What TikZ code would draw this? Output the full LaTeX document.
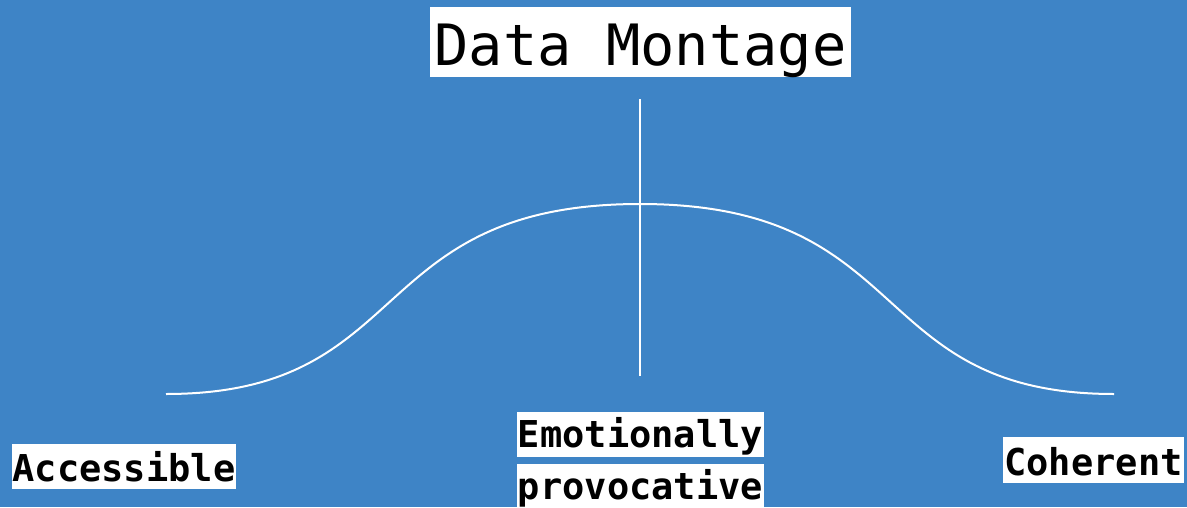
\documentclass[tikz,border=0pt]{standalone}
\usepackage{fontspec}
\setmonofont{DejaVu Sans Mono}
\definecolor{bgblue}{RGB}{62,132,198}
\newfontfamily\monofont{DejaVu Sans Mono}
\tikzset{
  titlebox/.style={fill=white, text=black, inner xsep=5pt, inner ysep=0pt, anchor=base,
    font=\monofont\fontsize{57}{60}\selectfont, text height=58pt, text depth=12pt},
  lblbox/.style={fill=white, text=black, inner xsep=1pt, inner ysep=0pt, anchor=base,
    font=\monofont\bfseries\fontsize{37}{40}\selectfont},
  curveline/.style={draw=white, line width=2pt},
  axisline/.style={draw=white, line width=1.5pt}
}
\begin{document}
\begin{tikzpicture}[x=1pt,y=-1pt]
\useasboundingbox (0,0) rectangle (1187,507);
\fill[bgblue] (0,0) rectangle (1187,507);
\node[titlebox] (title) at (640.5,65) {Data Montage};
\node[lblbox, text height=37pt, text depth=8pt] (acc) at (124,481) {Accessible};
\node[lblbox, text height=35pt, text depth=10pt] (emo) at (640.5,447) {Emotionally};
\node[lblbox, text height=35pt, text depth=12pt] (pro) at (640.5,499) {provocative};
\node[lblbox, text height=38pt, text depth=8pt] (coh) at (1093.5,475) {Coherent};
\coordinate (cl) at (166,394);
\coordinate (peak) at (640,204);
\coordinate (cr) at (1114,394);
\coordinate (vtop) at (640,99);
\coordinate (vbot) at (640,376);
\draw[curveline] (cl) .. controls (416,394) and (363,204) .. (peak)
  .. controls (917,204) and (864,394) .. (cr);
\draw[axisline] (vtop) -- (vbot);
\end{tikzpicture}
\end{document}
